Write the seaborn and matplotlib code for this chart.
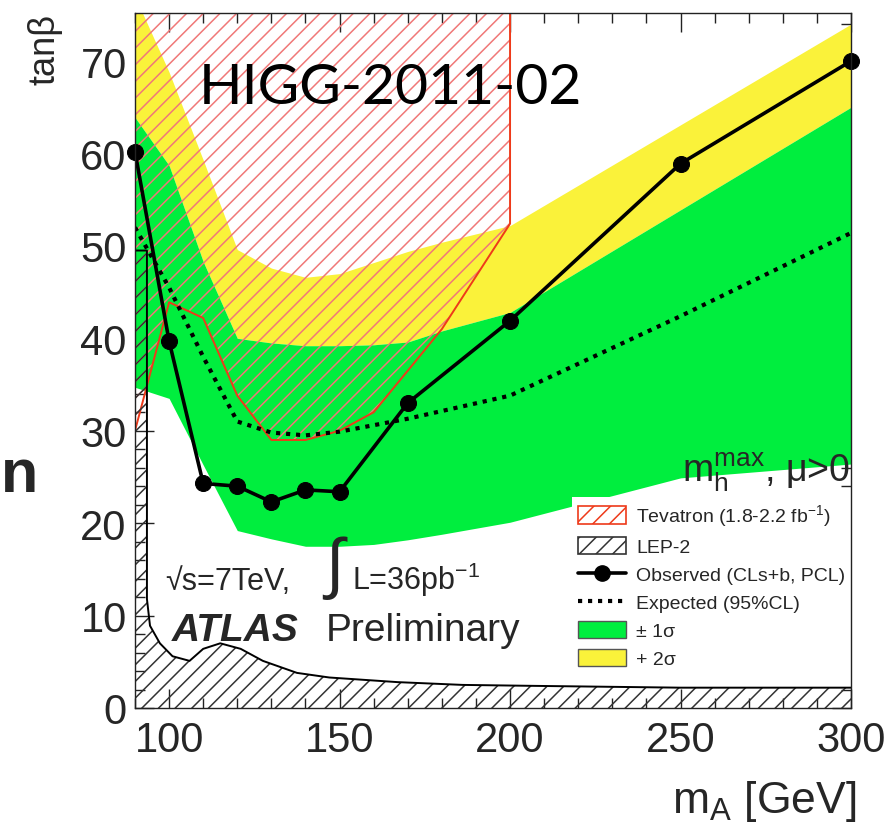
import numpy as np
import pandas as pd
import matplotlib
matplotlib.use('Agg')
import matplotlib.pyplot as plt
import seaborn as sns
from matplotlib.patches import Patch
from matplotlib.lines import Line2D
from matplotlib.ticker import MultipleLocator

# ---------------- data ----------------
mA_obs = [90, 100, 110, 120, 130, 140, 150, 170, 200, 250, 300]
tanb_obs = [60.2, 39.7, 24.3, 24.0, 22.3, 23.6, 23.4, 33.0, 41.9, 58.9, 70.0]

mA_exp = [90, 100, 110, 120, 130, 140, 150, 160, 170, 200, 250, 300]
tanb_exp = [52.0, 45.5, 38.0, 31.0, 29.8, 29.5, 29.9, 30.6, 31.3, 33.8, 42.4, 51.4]

band_x = [90, 100, 110, 120, 130, 140, 150, 160, 170, 180, 200, 250, 300]
sig1_lo = [34.7, 33.5, 26.3, 19.2, 18.3, 17.5, 17.5, 17.7, 18.2, 18.8, 20.1, 24.9, 26.4]
sig1_hi = [63.9, 58.7, 48.3, 40.0, 39.5, 39.2, 39.2, 39.3, 39.6, 40.8, 42.8, 53.9, 65.0]
sig2_hi = [77.0, 68.8, 59.3, 49.6, 47.6, 46.6, 47.0, 48.2, 49.4, 50.4, 52.2, 63.1, 74.0]

tev_x = [90, 100, 110, 120, 130, 140, 150, 160, 180, 200]
tev_y = [30.0, 43.9, 42.2, 33.8, 29.0, 29.0, 30.0, 32.0, 41.0, 52.4]

lep_x = [90, 93.5, 93.5, 94.4, 97.3, 101, 106, 110, 115, 121, 127.5, 137.5, 147, 167, 186, 206, 250, 300]
lep_y = [49.5, 49.5, 11.8, 8.9, 7.0, 5.6, 5.1, 6.4, 7.0, 6.4, 5.1, 3.8, 3.3, 2.8, 2.5, 2.4, 2.2, 2.2]

x_ticks = [100, 150, 200, 250, 300]
y_ticks = [0, 10, 20, 30, 40, 50, 60, 70]

# ---------------- style ----------------
sns.set_theme(style='ticks')
plt.rcParams['font.family'] = ['Liberation Sans', 'DejaVu Sans']
plt.rcParams['mathtext.fontset'] = 'custom'
plt.rcParams['mathtext.rm'] = 'Liberation Sans'
plt.rcParams['mathtext.it'] = 'Liberation Sans:italic'
plt.rcParams['mathtext.bf'] = 'Liberation Sans:bold'

GREEN = '#00ee3e'
YELLOW = '#faf23a'
TEV_RED = '#ee3a1a'
TEV_HATCH = '#f07878'

fig = plt.figure(figsize=(8.89, 8.28), dpi=100)
ax = fig.add_axes([135/889, 1-709/828, (851-135)/889, (709-14)/828])

# bands
ax.fill_between(band_x, sig1_hi, sig2_hi, color=YELLOW, lw=0, zorder=1)
ax.fill_between(band_x, sig1_lo, sig1_hi, color=GREEN, lw=0, zorder=1.1)

# Tevatron hatched region
plt.rcParams['hatch.linewidth'] = 1.1
ax.fill_between(tev_x, tev_y, 80, facecolor='none', edgecolor=TEV_HATCH,
                hatch='//', lw=0, zorder=2)
ax.plot(tev_x + [200], tev_y + [80], color=TEV_RED, lw=1.4, zorder=2.1)

# LEP-2 hatched region
ax.fill_between(lep_x, 0, lep_y, facecolor='none', edgecolor='#333333',
                hatch='//', lw=0, zorder=5.5)
ax.plot(lep_x, lep_y, color='black', lw=1.4, zorder=5.6)

# expected and observed
sns.lineplot(x=mA_exp, y=tanb_exp, ax=ax, color='black', lw=3.0,
             linestyle=(0, (1, 1.4)), zorder=3, sort=False)
sns.lineplot(x=mA_obs, y=tanb_obs, ax=ax, color='black', lw=2.6,
             marker='o', markersize=11.5, markeredgecolor='black',
             zorder=4, sort=False, clip_on=False)

ax.set_xlim(90, 300)
ax.set_ylim(0, 75.2)
ax.set_xticks(x_ticks)
ax.set_yticks(y_ticks)
ax.xaxis.set_minor_locator(MultipleLocator(10))
ax.yaxis.set_minor_locator(MultipleLocator(2))
ax.tick_params(which='both', direction='in', top=True, right=True,
               color='#222222', width=1.0)
ax.tick_params(which='major', length=14, labelsize=30, pad=6)
ax.tick_params(axis='x', which='major', pad=9)
ax.tick_params(which='minor', length=7)
ax.tick_params(axis='x', labeltop=False)
ax.tick_params(axis='y', labelright=False)
for s in ax.spines.values():
    s.set_linewidth(1.0)
    s.set_color('#222222')
    s.set_zorder(6)
ax.set_xlabel('')
ax.set_ylabel('')

# legend
handles = [
    Patch(facecolor='white', edgecolor=TEV_RED, hatch='//', lw=1.2),
    Patch(facecolor='white', edgecolor='#333333', hatch='//', lw=1.2),
    Line2D([], [], color='black', lw=2.6, marker='o', markersize=11),
    Line2D([], [], color='black', lw=3.0, linestyle=(0, (1, 1.4))),
    Patch(facecolor=GREEN, edgecolor='#555555', lw=1.0),
    Patch(facecolor=YELLOW, edgecolor='#555555', lw=1.0),
]
labels = ['Tevatron (1.8-2.2 fb$^{\\mathregular{-1}}$)', 'LEP-2',
          'Observed (CLs+b, PCL)', 'Expected (95%CL)', '± 1σ', '+ 2σ']
leg = ax.legend(handles, labels, loc='upper left', bbox_to_anchor=(0.61, 0.304),
                fontsize=14, frameon=True, fancybox=False, framealpha=1,
                facecolor='white', edgecolor='none', handlelength=2.5,
                handleheight=1.0, labelspacing=0.44, handletextpad=0.5,
                borderpad=0.3, borderaxespad=0.0)
leg.set_zorder(5)

# texts
fig.text(390/889, 1-88/828, 'HIGG-2011-02', fontsize=41, family='Lato',
         ha='center', va='center', color='black', zorder=10)
fig.text(45/889, 1-14/828, 'tanβ', fontsize=26, rotation=90, ha='center', va='top')
fig.text(856/889, 1-813/828, 'm$_{\\mathregular{A}}$ [GeV]', fontsize=32,
         ha='right', va='baseline')
fig.text(1/889, 1-492/828, 'n', fontsize=44, fontweight='bold',
         family=['Liberation Sans Narrow', 'Liberation Sans'],
         ha='left', va='baseline')
fig.text(850/889, 1-482/828, '$\\mathregular{m_h^{max}}$, μ>0', fontsize=27,
         ha='right', va='baseline')
fig.text(165/889, 1-590/828, '√s=7TeV,', fontsize=22, ha='left', va='baseline')
fig.text(334/889, 1-568/828, '∫', fontsize=48, ha='center', va='center')
fig.text(352/889, 1-590/828, 'L=36pb$^{\\mathregular{-1}}$', fontsize=22,
         ha='left', va='baseline')
fig.text(172/889, 1-641/828, 'ATLAS', fontsize=28, fontweight='bold',
         fontstyle='italic', ha='left', va='baseline')
fig.text(326/889, 1-641/828, 'Preliminary', fontsize=28, ha='left', va='baseline')

fig.savefig('out.png', dpi=100)
